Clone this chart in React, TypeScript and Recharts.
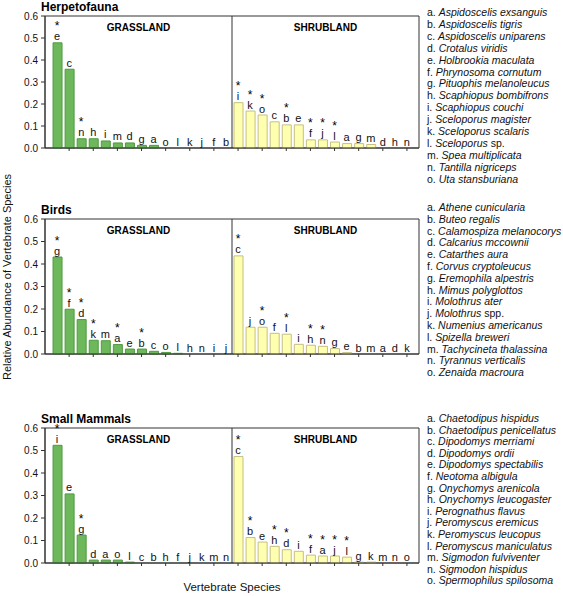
import { ComposedChart, Bar, Scatter, XAxis, YAxis, Cell, ReferenceArea, ReferenceLine } from "recharts";

// letters are in the order the bars are drawn (largest first)
const herpGrassland = ["e", "c", "n", "h", "i", "m", "d", "g", "a", "o", "l", "k", "j", "f", "b"];
const herpGrasslandValues = [0.478, 0.358, 0.042, 0.042, 0.032, 0.023, 0.023, 0.012, 0.012, 0, 0, 0, 0, 0, 0];
const herpGrasslandStars = ["e", "n"];
const herpShrubland = ["i", "k", "o", "c", "b", "e", "f", "j", "l", "a", "g", "m", "d", "h", "n"];
const herpShrublandValues = [0.206, 0.168, 0.15, 0.119, 0.105, 0.105, 0.037, 0.037, 0.027, 0.02, 0.02, 0.016, 0, 0, 0];
const herpShrublandStars = ["i", "k", "o", "b", "f", "j", "l"];

const birdGrassland = ["g", "f", "d", "k", "m", "a", "e", "b", "c", "o", "l", "h", "n", "i", "j"];
const birdGrasslandValues = [0.431, 0.199, 0.153, 0.061, 0.059, 0.042, 0.022, 0.022, 0.012, 0.007, 0.003, 0, 0, 0, 0];
const birdGrasslandStars = ["g", "f", "d", "k", "a", "b"];
const birdShrubland = ["c", "j", "o", "f", "l", "i", "h", "n", "g", "e", "b", "m", "a", "d", "k"];
const birdShrublandValues = [0.436, 0.119, 0.119, 0.092, 0.088, 0.043, 0.039, 0.034, 0.024, 0.006, 0, 0, 0, 0, 0];
const birdShrublandStars = ["c", "o", "l", "h", "n"];

const mammalGrassland = ["i", "e", "g", "d", "a", "o", "l", "c", "b", "h", "f", "j", "k", "m", "n"];
const mammalGrasslandValues = [0.523, 0.307, 0.124, 0.013, 0.013, 0.013, 0.004, 0, 0, 0, 0, 0, 0, 0, 0];
const mammalGrasslandStars = ["i", "g"];
const mammalShrubland = ["c", "b", "e", "h", "d", "i", "f", "a", "j", "l", "g", "k", "m", "n", "o"];
const mammalShrublandValues = [0.473, 0.113, 0.093, 0.074, 0.059, 0.052, 0.035, 0.031, 0.031, 0.026, 0.004, 0.004, 0, 0, 0];
const mammalShrublandStars = ["c", "b", "h", "d", "f", "a", "j", "l"];

const herpSpecies = [
  "Aspidoscelis exsanguis", "Aspidoscelis tigris", "Aspidoscelis uniparens", "Crotalus viridis",
  "Holbrookia maculata", "Phrynosoma cornutum", "Pituophis melanoleucus", "Scaphiopus bombifrons",
  "Scaphiopus couchi", "Sceloporus magister", "Sceloporus scalaris", "Sceloporus sp.",
  "Spea multiplicata", "Tantilla nigriceps", "Uta stansburiana",
];
const birdSpecies = [
  "Athene cunicularia", "Buteo regalis", "Calamospiza melanocorys", "Calcarius mccownii",
  "Catarthes aura", "Corvus cryptoleucus", "Eremophila alpestris", "Mimus polyglottos",
  "Molothrus ater", "Molothrus spp.", "Numenius americanus", "Spizella breweri",
  "Tachycineta thalassina", "Tyrannus verticalis", "Zenaida macroura",
];
const mammalSpecies = [
  "Chaetodipus hispidus", "Chaetodipus penicellatus", "Dipodomys merriami", "Dipodomys ordii",
  "Dipodomys spectabilis", "Neotoma albigula", "Onychomys arenicola", "Onychomys leucogaster",
  "Perognathus flavus", "Peromyscus eremicus", "Peromyscus leucopus", "Peromyscus maniculatus",
  "Sigmodon fulviventer", "Sigmodon hispidus", "Spermophilus spilosoma",
];

const legendLetters = ["a", "b", "c", "d", "e", "f", "g", "h", "i", "j", "k", "l", "m", "n", "o"];
const yTicks = [0, 0.1, 0.2, 0.3, 0.4, 0.5, 0.6];

const FONT = '"Liberation Sans", Arial, sans-serif';
const GREEN = "#6cb85a";
const GREEN_EDGE = "#4f9a41";
const YELLOW = "#ffffb0";
const YELLOW_EDGE = "#c4bf86";
const LINE = "#333";

type Row = { pos: number; value: number; letter: string; star: boolean; habitat: string };

function buildRows(
  gl: string[], gv: number[], gs: string[],
  sl: string[], sv: number[], ss: string[],
): Row[] {
  const rows: Row[] = [];
  gl.forEach((l, i) => rows.push({ pos: i + 1, value: gv[i], letter: l, star: gs.includes(l), habitat: "grass" }));
  sl.forEach((l, i) => rows.push({ pos: i + 16, value: sv[i], letter: l, star: ss.includes(l), habitat: "shrub" }));
  return rows;
}

// letter (and significance star) sitting on top of each bar, zero bars included
function BarTag(props: any) {
  const { cx, cy, payload } = props;
  if (cx == null || cy == null || !payload) return <g />;
  return (
    <g fontFamily={FONT} textAnchor="middle">
      {payload.star && (
        <text x={cx} y={cy - 12.5} fontSize={12} fill="#000">
          *
        </text>
      )}
      <text x={cx} y={cy - 2.5} fontSize={11} fill="#111">
        {payload.letter}
      </text>
    </g>
  );
}

const noTickLabel = () => <g />;

function Legend({ species, top, lineHeight }: { species: string[]; top: number; lineHeight: number }) {
  return (
    <div style={{ position: "absolute", left: 427, top, fontFamily: FONT, fontSize: 10.5, lineHeight: `${lineHeight}px`, color: "#111", whiteSpace: "nowrap" }}>
      {species.map((sp, i) => {
        const m = sp.match(/^(.*?)( spp?\.)$/);
        return (
          <div key={sp}>
            {legendLetters[i]}. <i>{m ? m[1] : sp}</i>
            {m ? m[2] : ""}
          </div>
        );
      })}
    </div>
  );
}

function Panel({ title, rows, top, plotTop, plotHeight }: { title: string; rows: Row[]; top: number; plotTop: number; plotHeight: number }) {
  const xTicks = rows.map((r) => r.pos);
  const habitatLabel = (value: string) => ({
    value,
    position: "insideTop" as const,
    offset: 8,
    fontSize: 10,
    fontWeight: "bold",
    fill: "#000",
    fontFamily: FONT,
  });
  return (
    <>
      <div style={{ position: "absolute", left: 41, top: top + plotTop - 16, fontFamily: FONT, fontSize: 12, fontWeight: "bold", lineHeight: "14px", color: "#000" }}>
        {title}
      </div>
      <div style={{ position: "absolute", left: 0, top }}>
        <ComposedChart width={421} height={plotTop + plotHeight + 8} data={rows} margin={{ top: plotTop, right: 2, bottom: 0, left: 0 }}>
          <XAxis
            dataKey="pos"
            type="number"
            domain={[0, 31]}
            ticks={xTicks}
            tick={noTickLabel}
            tickSize={3}
            height={8}
            axisLine={{ stroke: LINE }}
            tickLine={{ stroke: LINE }}
          />
          <YAxis
            type="number"
            domain={[0, 0.6]}
            ticks={yTicks}
            tickFormatter={(v: number) => v.toFixed(1)}
            width={45}
            tickSize={4}
            tickMargin={3}
            tick={{ fontSize: 10, fill: "#111", fontFamily: FONT }}
            axisLine={{ stroke: LINE }}
            tickLine={{ stroke: LINE }}
          />
          <ReferenceArea x1={0} x2={31} y1={0} y2={0.6} fill="none" stroke={LINE} />
          <ReferenceArea x1={0} x2={15.5} y1={0} y2={0.6} fill="none" stroke="none" label={habitatLabel("GRASSLAND")} />
          <ReferenceArea x1={15.5} x2={31} y1={0} y2={0.6} fill="none" stroke="none" label={habitatLabel("SHRUBLAND")} />
          <ReferenceLine x={15.5} stroke={LINE} />
          <Bar dataKey="value" barSize={9} isAnimationActive={false}>
            {rows.map((r) => (
              <Cell
                key={r.pos}
                fill={r.habitat === "grass" ? GREEN : YELLOW}
                stroke={r.habitat === "grass" ? GREEN_EDGE : YELLOW_EDGE}
                strokeWidth={1}
              />
            ))}
          </Bar>
          <Scatter dataKey="value" shape={BarTag} isAnimationActive={false} />
        </ComposedChart>
      </div>
    </>
  );
}

export default function App() {
  const herpRows = buildRows(herpGrassland, herpGrasslandValues, herpGrasslandStars, herpShrubland, herpShrublandValues, herpShrublandStars);
  const birdRows = buildRows(birdGrassland, birdGrasslandValues, birdGrasslandStars, birdShrubland, birdShrublandValues, birdShrublandStars);
  const mammalRows = buildRows(mammalGrassland, mammalGrasslandValues, mammalGrasslandStars, mammalShrubland, mammalShrublandValues, mammalShrublandStars);

  return (
    <div style={{ position: "absolute", left: 0, top: 0, width: 563, height: 596, background: "#fff", overflow: "hidden" }}>
      <Panel title="Herpetofauna" rows={herpRows} top={0} plotTop={16} plotHeight={132} />
      <Panel title="Birds" rows={birdRows} top={200} plotTop={19} plotHeight={135} />
      <Panel title="Small Mammals" rows={mammalRows} top={410} plotTop={18} plotHeight={135} />

      <Legend species={herpSpecies} top={7} lineHeight={11.9} />
      <Legend species={birdSpecies} top={202} lineHeight={11.8} />
      <Legend species={mammalSpecies} top={413} lineHeight={11.6} />

      <div
        style={{
          position: "absolute",
          left: 7 - 130,
          top: 277 - 7,
          width: 260,
          height: 14,
          lineHeight: "14px",
          textAlign: "center",
          transform: "rotate(-90deg)",
          fontFamily: FONT,
          fontSize: 11,
          color: "#111",
          whiteSpace: "nowrap",
        }}
      >
        Relative Abundance of Vertebrate Species
      </div>
      <div style={{ position: "absolute", left: 132, top: 580, width: 200, textAlign: "center", fontFamily: FONT, fontSize: 11.5, lineHeight: "14px", color: "#111" }}>
        Vertebrate Species
      </div>
    </div>
  );
}
